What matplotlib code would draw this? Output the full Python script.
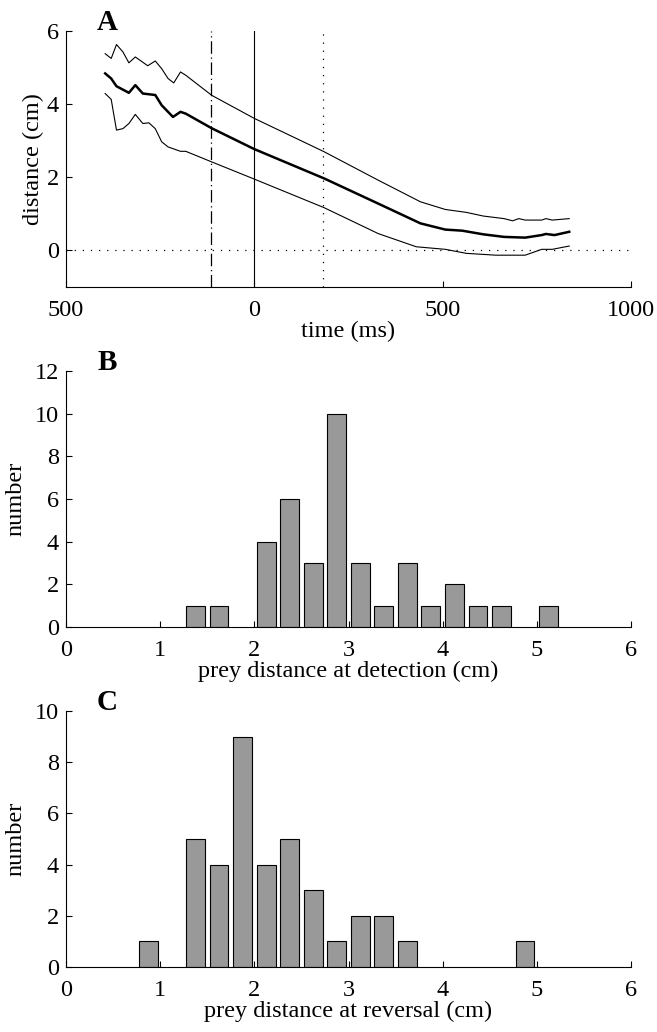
import numpy as np
import matplotlib.pyplot as plt

# panel A: distance vs time (mean and bounds)
t_mean = [-396, -380, -366, -333, -316, -296, -263, -246, -216, -196, -182,
          -113, 0, 185, 329, 441, 507, 552, 608, 663, 719, 763, 774, 797, 836]
d_mean = [4.84, 4.70, 4.49, 4.31, 4.52, 4.29, 4.25, 3.97, 3.65, 3.79, 3.74,
          3.34, 2.77, 1.97, 1.28, 0.74, 0.57, 0.54, 0.44, 0.37, 0.35, 0.42, 0.45, 0.42, 0.51]

t_upper = [-396, -380, -366, -349, -333, -316, -283, -263, -246, -229, -214, -196, -182,
           -113, 0, 185, 329, 441, 507, 563, 608, 663, 686, 702, 719, 763, 774, 791, 836]
d_upper = [5.38, 5.25, 5.63, 5.43, 5.13, 5.29, 5.05, 5.18, 4.97, 4.70, 4.58, 4.88, 4.79,
           4.24, 3.61, 2.70, 1.92, 1.33, 1.12, 1.04, 0.94, 0.87, 0.81, 0.87, 0.83, 0.83, 0.87, 0.83, 0.87]

t_lower = [-396, -380, -366, -349, -333, -316, -296, -280, -263, -246, -229, -196, -182,
           -113, 0, 185, 329, 430, 507, 563, 641, 719, 763, 791, 836]
d_lower = [4.29, 4.13, 3.29, 3.33, 3.47, 3.72, 3.47, 3.49, 3.33, 2.97, 2.83, 2.71, 2.71,
           2.42, 1.95, 1.17, 0.46, 0.10, 0.03, -0.08, -0.13, -0.13, 0.03, 0.03, 0.12]

t_detect = -115
t_reverse = 183

# panel B: prey distance at detection
det_centers = [1.375, 1.625, 2.125, 2.375, 2.625, 2.875, 3.125, 3.375, 3.625,
               3.875, 4.125, 4.375, 4.625, 5.125]
det_counts = [1, 1, 4, 6, 3, 10, 3, 1, 3, 1, 2, 1, 1, 1]

# panel C: prey distance at reversal
rev_centers = [0.875, 1.375, 1.625, 1.875, 2.125, 2.375, 2.625, 2.875, 3.125,
               3.375, 3.625, 4.875]
rev_counts = [1, 5, 4, 9, 4, 5, 3, 1, 2, 2, 1, 1]

plt.rcParams['font.family'] = ['Liberation Serif', 'DejaVu Serif']
plt.rcParams['font.size'] = 17.5
plt.rcParams['xtick.direction'] = 'in'
plt.rcParams['ytick.direction'] = 'in'
plt.rcParams['xtick.major.size'] = 4
plt.rcParams['ytick.major.size'] = 4

fig = plt.figure(figsize=(6.57, 10.32), dpi=100)
W, H = 657, 1032


def add_axes(top, bottom, left=66, right=631):
    return fig.add_axes([left / W, 1 - bottom / H, (right - left) / W, (bottom - top) / H])


def style(ax, letter):
    ax.spines['top'].set_visible(False)
    ax.spines['right'].set_visible(False)
    ax.tick_params(axis='x', width=0.8, pad=9)
    ax.tick_params(axis='y', width=0.8, pad=5)
    ax.text(0.073, 1.035, letter, transform=ax.transAxes, fontsize=21,
            fontweight='bold', ha='center', va='center')


# ---- A
axA = add_axes(31, 287)
axA.plot(t_upper, d_upper, color='black', lw=0.8)
axA.plot(t_lower, d_lower, color='black', lw=0.8)
axA.plot(t_mean, d_mean, color='black', lw=1.8)
axA.axvline(t_detect, color='black', lw=0.9, ls=(0, (10, 3, 1, 3)))
axA.axvline(0, color='black', lw=0.8)
axA.axvline(t_reverse, color='black', lw=0.9, ls=(0, (1, 5.5)))
axA.axhline(0, color='black', lw=0.9, ls=(0, (1, 5.5)))
axA.set_xlim(-500, 1000)
axA.set_ylim(-1, 6)
axA.set_xticks([-500, 0, 500, 1000])
axA.set_xticklabels(['500', '0', '500', '1000'])
axA.set_yticks([0, 2, 4, 6])
axA.set_xlabel('time (ms)', labelpad=0)
axA.set_ylabel('distance (cm)', labelpad=2)
style(axA, 'A')

# ---- B
axB = add_axes(371, 627)
axB.bar(det_centers, det_counts, width=0.2, color='#999999', edgecolor='black', lw=0.8)
axB.set_xlim(0, 6)
axB.set_ylim(0, 12)
axB.set_yticks(range(0, 13, 2))
axB.set_xticks(range(0, 7))
axB.set_xlabel('prey distance at detection (cm)', labelpad=0)
axB.set_ylabel('number', labelpad=6)
style(axB, 'B')

# ---- C
axC = add_axes(711, 967)
axC.bar(rev_centers, rev_counts, width=0.2, color='#999999', edgecolor='black', lw=0.8)
axC.set_xlim(0, 6)
axC.set_ylim(0, 10)
axC.set_yticks(range(0, 11, 2))
axC.set_xticks(range(0, 7))
axC.set_xlabel('prey distance at reversal (cm)', labelpad=0)
axC.set_ylabel('number', labelpad=6)
style(axC, 'C')

fig.savefig('out.png', dpi=100)
